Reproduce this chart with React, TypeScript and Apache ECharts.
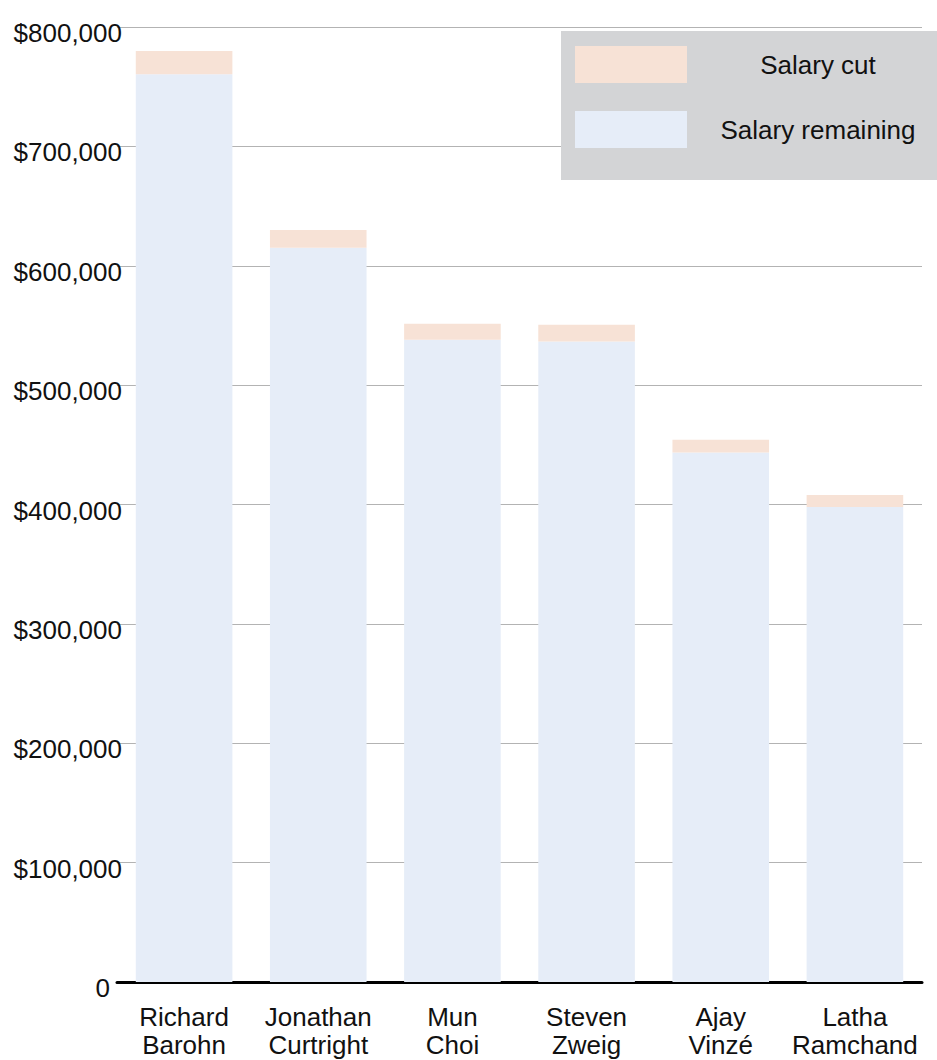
import React, { useEffect, useRef } from "react";
import * as echarts from "echarts";

const categories = [
  "Richard\nBarohn",
  "Jonathan\nCurtright",
  "Mun\nChoi",
  "Steven\nZweig",
  "Ajay\nVinzé",
  "Latha\nRamchand",
];
const salaryRemaining = [760500, 615000, 538000, 536500, 443500, 398000];
const salaryCut = [19500, 15000, 13500, 14000, 10800, 10000];
const seriesNames = ["Salary cut", "Salary remaining"];
const yMax = 800000;
const yInterval = 100000;

const FONT = "'Liberation Sans', Arial, Helvetica, sans-serif";

export default function App() {
  const ref = useRef<HTMLDivElement>(null);

  useEffect(() => {
    if (!ref.current) return;
    const chart = echarts.init(ref.current, undefined, { renderer: "svg" });
    chart.setOption({
      animation: false,
      backgroundColor: "#ffffff",
      textStyle: { fontFamily: FONT },
      grid: { left: 117, right: 15, top: 27, bottom: 78, containLabel: false },
      legend: {
        data: seriesNames,
        orient: "vertical",
        left: 561,
        top: 31,
        padding: [15, 30, 32, 14],
        itemGap: 28,
        itemWidth: 112,
        itemHeight: 37,
        icon: "rect",
        backgroundColor: "#d3d4d6",
        formatter: (name: string) => "{t|" + name + "}",
        textStyle: {
          color: "#111",
          fontSize: 26,
          fontFamily: FONT,
          rich: {
            t: { width: 252, align: "center", fontSize: 26, fontFamily: FONT, color: "#111" },
          },
        },
      },
      xAxis: {
        type: "category",
        data: categories,
        axisTick: { show: false },
        axisLine: { show: true, lineStyle: { color: "#000", width: 3 } },
        axisLabel: {
          color: "#111",
          fontSize: 26,
          lineHeight: 28,
          margin: 21,
          fontFamily: FONT,
          interval: 0,
        },
      },
      yAxis: {
        type: "value",
        min: 0,
        max: yMax,
        interval: yInterval,
        axisLine: { show: false },
        axisTick: { show: false },
        splitLine: { lineStyle: { color: "#b3b3b3", width: 1 } },
        axisLabel: {
          color: "#111",
          fontSize: 26,
          fontFamily: FONT,
          margin: -5,
          padding: [12, 0, 0, 0],
          formatter: (v: number) =>
            v === 0 ? "{z|0}" : "$" + v.toLocaleString("en-US"),
          rich: {
            z: { padding: [0, 12, 0, 0], fontSize: 26, fontFamily: FONT, color: "#111" },
          },
        },
      },
      series: [
        {
          name: "Salary remaining",
          type: "bar",
          stack: "salary",
          data: salaryRemaining,
          barWidth: "72%",
          itemStyle: { color: "#e6edf8" },
        },
        {
          name: "Salary cut",
          type: "bar",
          stack: "salary",
          data: salaryCut,
          barWidth: "72%",
          itemStyle: { color: "#f7e2d6" },
        },
      ],
    });
    return () => chart.dispose();
  }, []);

  return (
    <div
      ref={ref}
      style={{ position: "absolute", left: 0, top: 0, width: 937, height: 1060 }}
    />
  );
}
